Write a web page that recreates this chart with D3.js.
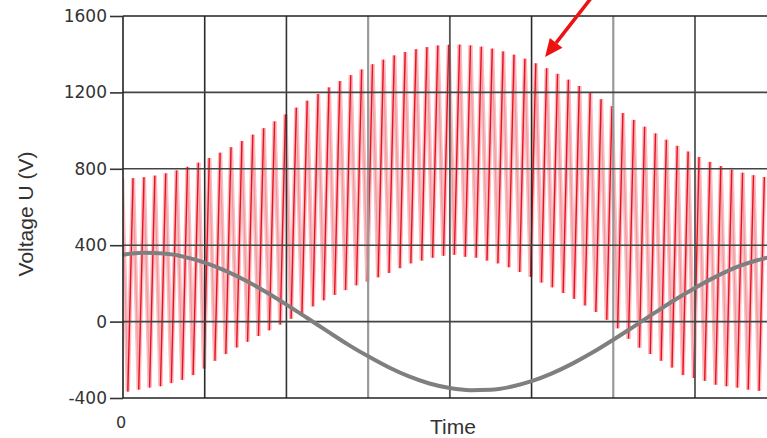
<!DOCTYPE html>
<html>
<head>
<meta charset="utf-8">
<script src="https://cdn.jsdelivr.net/npm/d3@7"></script>
<style>
  html, body { margin: 0; padding: 0; background: #fff; }
  svg { display: block; }
</style>
</head>
<body>
<svg id="chart" width="767" height="438"></svg>
<script>
// ---------------- data ----------------
const yTicks = [-400, 0, 400, 800, 1200, 1600];
const xGridTicks = [0, 1, 2, 3, 4, 5, 6, 7, 8];
const xTickLabels = ["0"];
const xLabel = "Time";
const yLabel = "Voltage U (V)";

// grey sine-like curve, sampled every 0.25 grid units of time
const curveTimes = [0, 0.25, 0.5, 0.75, 1, 1.25, 1.5, 1.75, 2, 2.25, 2.5, 2.75, 3, 3.25, 3.5, 3.75,
  4, 4.25, 4.5, 4.75, 5, 5.25, 5.5, 5.75, 6, 6.25, 6.5, 6.75, 7, 7.25, 7.5, 7.75, 8];
const curveValues = [350, 360, 356, 339, 309, 267, 215, 155, 89, 20, -50, -119, -182, -239, -287, -324,
  -348, -359, -357, -341, -312, -271, -220, -161, -95, -26, 44, 113, 176, 234, 284, 320, 346];

// red switching waveform: peak and trough of each switching cycle
const redPeaks = [750, 751, 756, 764, 776, 791, 810, 832, 856, 884, 913, 945, 978, 1012, 1048,
  1084, 1120, 1156, 1192, 1226, 1259, 1290, 1320, 1347, 1371, 1393, 1411, 1426, 1437, 1445,
  1449, 1450, 1446, 1439, 1429, 1414, 1397, 1376, 1352, 1326, 1297, 1266, 1233, 1199, 1164,
  1128, 1092, 1056, 1020, 985, 952, 920, 890, 862, 836, 814, 795, 779, 766, 757];
const redTroughs = [-370, -366, -356, -345, -338, -322, -305, -280, -245, -205, -170, -135, -105, -75, -45,
  -15, 15, 45, 80, 112, 140, 165, 190, 210, 232, 255, 280, 305, 320, 335,
  345, 350, 340, 335, 320, 305, 285, 260, 235, 205, 180, 150, 120, 85, 50,
  10, -35, -90, -136, -170, -205, -240, -280, -295, -310, -330, -338, -345, -356, -362];
const cyclePeriod = 0.1332;   // grid units per switching cycle
const cyclePhase = -0.01;     // time of first peak
const riseTime = 0.064;       // trough -> peak duration

// annotation arrow (data units): tail, tip
const arrowTail = [5.74, 1700];
const arrowTip = [5.165, 1385];

// ---------------- layout ----------------
const svg = d3.select("#chart");
const pLeft = 123, pRight = 776.7, pTop = 16, pBottom = 398, svgW = 767;
const x = d3.scaleLinear().domain([0, 8]).range([pLeft, pRight]);
const y = d3.scaleLinear().domain([-400, 1600]).range([pBottom, pTop]);

svg.append("defs").append("clipPath").attr("id", "plotClip")
  .append("rect").attr("x", pLeft).attr("y", pTop).attr("width", svgW - pLeft).attr("height", pBottom - pTop);

const plot = svg.append("g").attr("clip-path", "url(#plotClip)");

// red waveform
const tPeak = k => cyclePhase + k * cyclePeriod;
const tTrough = k => tPeak(k) - riseTime;
const fallSegs = [], riseSegs = [];
redPeaks.forEach((p, k) => {
  riseSegs.push([[tTrough(k), redTroughs[k]], [tPeak(k), p]]);
  if (k + 1 < redPeaks.length) fallSegs.push([[tPeak(k), p], [tTrough(k + 1), redTroughs[k + 1]]]);
});
const seg = d3.line().x(d => x(d[0])).y(d => y(d[1]));
plot.append("g").selectAll("path").data(fallSegs).join("path")
  .attr("d", seg).attr("fill", "none").attr("stroke", "#f9bcc0").attr("stroke-width", 4.2);
plot.append("g").selectAll("path").data(riseSegs).join("path")
  .attr("d", seg).attr("fill", "none").attr("stroke", "#f9bcc0").attr("stroke-width", 4.2);
plot.append("g").selectAll("path").data(fallSegs).join("path")
  .attr("d", seg).attr("fill", "none").attr("stroke", "#f4949a").attr("stroke-width", 1.0);
plot.append("g").selectAll("path").data(riseSegs).join("path")
  .attr("d", seg).attr("fill", "none").attr("stroke", "#ea1020").attr("stroke-width", 1.4);

// grid
const vGridColors = ["#222", "#2a2a2a", "#333", "#9a9a9a", "#555", "#2a2a2a", "#999", "#555", "#333"];
const vGridWidths = [1.6, 1.6, 1.6, 2.2, 1.8, 1.6, 2.2, 1.8, 1.6];
plot.append("g").selectAll("line").data(xGridTicks.slice(1)).join("line")
  .attr("x1", d => x(d)).attr("x2", d => x(d)).attr("y1", pTop).attr("y2", pBottom)
  .attr("stroke", (d, i) => vGridColors[i + 1]).attr("stroke-width", (d, i) => vGridWidths[i + 1]);
plot.append("g").selectAll("line").data(yTicks.slice(1, -1)).join("line")
  .attr("x1", pLeft).attr("x2", svgW).attr("y1", d => y(d)).attr("y2", d => y(d))
  .attr("stroke", "#444").attr("stroke-width", 1.6);

// grey curve
plot.append("path").datum(curveTimes.map((t, i) => [t, curveValues[i]]))
  .attr("d", d3.line().x(d => x(d[0])).y(d => y(d[1])).curve(d3.curveMonotoneX))
  .attr("fill", "none").attr("stroke", "#7f7f7f").attr("stroke-width", 4);

// frame: top, bottom, left
svg.append("line").attr("x1", pLeft).attr("x2", svgW).attr("y1", y(1600)).attr("y2", y(1600))
  .attr("stroke", "#222").attr("stroke-width", 1.6);
svg.append("line").attr("x1", pLeft).attr("x2", svgW).attr("y1", y(-400)).attr("y2", y(-400))
  .attr("stroke", "#222").attr("stroke-width", 1.6);
svg.append("line").attr("x1", x(0)).attr("x2", x(0)).attr("y1", pTop).attr("y2", pBottom)
  .attr("stroke", "#222").attr("stroke-width", 1.6);

// y axis
const yAxis = d3.axisLeft(y).tickValues(yTicks).tickSize(13).tickPadding(3).tickFormat(d => String(d));
const ya = svg.append("g").attr("transform", `translate(${pLeft},0)`).call(yAxis);
ya.select(".domain").remove();
ya.selectAll(".tick line").attr("stroke", "#333").attr("stroke-width", 1.6);
ya.selectAll(".tick text").attr("font-family", "DejaVu Sans").attr("font-size", 17).attr("fill", "#333");

// x tick label
svg.append("g").selectAll("text").data(xTickLabels).join("text")
  .attr("x", d => x(+d) - 2).attr("y", 428)
  .attr("text-anchor", "middle").attr("font-family", "DejaVu Sans").attr("font-size", 16).attr("fill", "#333")
  .text(d => d);

// axis titles
svg.append("text").attr("x", 453).attr("y", 434).attr("text-anchor", "middle")
  .attr("font-family", "Liberation Sans, Arial, sans-serif").attr("font-size", 21).attr("fill", "#333")
  .text(xLabel);
svg.append("text").attr("transform", "translate(33,214) rotate(-90)").attr("text-anchor", "middle")
  .attr("font-family", "Liberation Sans, Arial, sans-serif").attr("font-size", 21).attr("fill", "#333")
  .text(yLabel);

// annotation arrow
const ax1 = x(arrowTail[0]), ay1 = y(arrowTail[1]), ax2 = x(arrowTip[0]), ay2 = y(arrowTip[1]);
const ang = Math.atan2(ay2 - ay1, ax2 - ax1);
const headLen = 18, headW = 8;
const bx = ax2 - headLen * Math.cos(ang), by = ay2 - headLen * Math.sin(ang);
svg.append("line").attr("x1", ax1).attr("y1", ay1).attr("x2", bx).attr("y2", by)
  .attr("stroke", "#ee1111").attr("stroke-width", 3.5);
svg.append("path")
  .attr("d", d3.line()([
    [ax2, ay2],
    [bx + headW * Math.sin(ang), by - headW * Math.cos(ang)],
    [bx - headW * Math.sin(ang), by + headW * Math.cos(ang)]
  ]) + "Z")
  .attr("fill", "#ee1111");
</script>
</body>
</html>
